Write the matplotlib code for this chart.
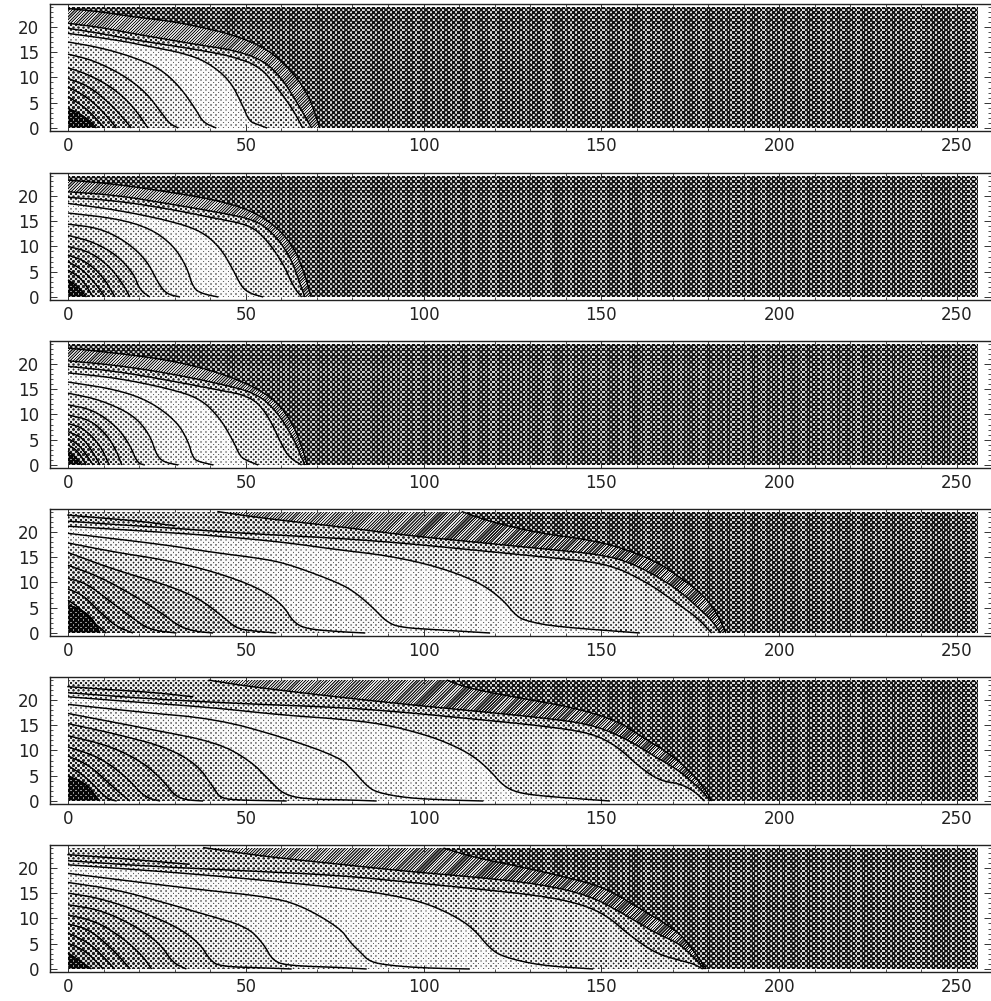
import numpy as np
import matplotlib
matplotlib.use("Agg")
import matplotlib.pyplot as plt
from matplotlib.path import Path
from matplotlib.ticker import MultipleLocator

X_TICKS = [0, 50, 100, 150, 200, 250]
Y_TICKS = [0, 5, 10, 15, 20]
BASE_GRAY = 0.34

PANEL1 = [
    [(0,23.6),(8.9,23),(18,22),(28,21.2),(37,20),(46.5,18.4),(56,15.7),(63.3,11),(68,6),(70.8,0)],
    [(0,20.7),(9,19.9),(18,18.7),(28,17.5),(37,16.4),(46.5,15.4),(55,13.4),(60.5,9.5),(65,4.3),(68.5,0)],
    [(0,19.7),(9,18.7),(18,17.5),(28,16.4),(37,15.4),(46.5,14.1),(54,12.1),(58.6,8.2),(63.3,3.6),(66,0)],
    [(0,18.7),(13.6,17.4),(23,16.1),(32.4,14.8),(39,13.1),(45.5,9.5),(49.2,4.3),(51,1.3),(53.5,0.65),(56,0)],
    [(0,17),(9,15.9),(18,14.1),(25.8,11.8),(31.4,8.2),(36,3.6),(38,1.1),(41.7,0)],
    [(0,14.6),(7,13.4),(15.5,10.5),(22,7),(26.7,2.6),(28.6,0.85),(31,0)],
    [(0,11.9),(6,10.5),(12.7,7.9),(18.3,4.3),(22.5,0)],
    [(0,9.8),(6,8.2),(11.7,4.9),(15.5,2),(17.8,0)],
    [(0,8.1),(5.2,6.2),(9.8,3.3),(13.6,0)],
    [(0,6.2),(5.2,3.9),(10.3,0)],
    [(0,3.9),(3,3),(6,1.5),(8,0)],
]
PANEL1_GRAY = [0.46,0.64,0.76,0.90,0.82,0.72,0.62,0.56,0.52,0.48,0.14]

PANEL2 = [
    [(0,23.1),(13.7,22.3),(32.4,20.3),(41.8,19.1),(51.2,17.2),(58.7,13.9),(63.4,9.9),(66.2,5.3),(68.4,0)],
    [(0,20.8),(13.7,20.1),(27.7,18.5),(41.8,16.8),(53,15.2),(58.7,11.9),(62.9,7.3),(65.2,2.7),(66.6,0)],
    [(0,19.7),(13.7,19),(27.7,17.5),(41.8,15.5),(51.2,14.2),(55.9,11.3),(60.5,6.6),(63.4,2),(65.7,0)],
    [(0,18.5),(13.7,17.2),(27.7,15.2),(37.1,13.2),(42.7,9.9),(46.5,5.3),(48.8,2),(51.2,0.7),(54.9,0)],
    [(0,16.6),(13.7,15.5),(23,13.6),(29.5,10.3),(33.4,6),(35.2,1.7),(38,0.6),(42.3,0)],
    [(0,14.4),(9,13.6),(16.5,10.9),(22.1,7.3),(25.4,2.7),(27.7,0.6),(31.5,0)],
    [(0,12.2),(7.1,10.9),(13.7,8.3),(18.4,4.7),(20.2,1.4),(23,0)],
    [(0,10),(6.2,8.9),(11.8,6),(15.6,2.4),(17.4,0)],
    [(0,8.3),(5.2,7),(9.9,4),(13.2,0)],
    [(0,7),(4.3,5.3),(8,2.4),(10.4,0)],
    [(0,5.3),(3.8,3.7),(7.1,0)],
    [(0,3.4),(2.9,2),(5.2,0)],
]
PANEL2_GRAY = [0.46,0.64,0.76,0.90,0.84,0.76,0.66,0.60,0.54,0.50,0.46,0.14]

PANEL3 = [
    [(0,23.1),(13.7,22.1),(27.7,20.8),(40,18.8),(51.2,15.9),(58.7,12.6),(63.4,8),(66.2,2.7),(67.3,0)],
    [(0,20.6),(13.7,19.7),(27.7,18.2),(41.8,16.2),(53,14.2),(58.7,10.6),(63.4,5.3),(66.6,0)],
    [(0,19.5),(13.7,18.5),(27.7,16.8),(41.8,14.9),(51.2,13.6),(55.9,10.3),(60.5,3.4),(62.4,1.4),(65.7,0)],
    [(0,18.2),(13.7,17.2),(27.7,15.2),(37.1,13.2),(42.7,9.3),(46.5,4.7),(48.4,1.7),(50.2,0.9),(53.5,0)],
    [(0,16.4),(13.7,14.9),(23,12.6),(30.6,8.6),(33.8,4.7),(35.2,1.25),(37.1,0.6),(40.9,0)],
    [(0,14.2),(9,12.9),(18.4,9.9),(23,6),(24.9,2),(26.8,0.6),(31,0)],
    [(0,11.9),(7.1,10.9),(13.7,7.6),(17.4,4),(19.5,0.4),(21.6,0)],
    [(0,9.9),(6.2,8.9),(10.9,6),(13.7,2.7),(15.1,0)],
    [(0,8.2),(4.3,7.3),(9,4),(11.6,0)],
    [(0,6.6),(4.3,5.3),(7.1,2.4),(9,0)],
    [(0,5.2),(3.2,4),(7.1,0)],
    [(0,4),(2.9,2.7),(5.1,0)],
    [(0,2.7),(1.9,1.7),(3.9,0)],
]
PANEL3_GRAY = [0.46,0.64,0.76,0.90,0.86,0.78,0.68,0.62,0.56,0.52,0.48,0.44,0.14]

PANEL4 = [
    [(110.7,24),(118.7,22),(132.7,19.7),(146.8,18.4),(156.2,16.7),(165.5,14.1),(171.2,11.4),(178,8),(182.5,4),(185,0)],
    [(42,24),(55.8,22.6),(76.5,21),(95.2,19.3),(114,18),(132.7,16.7),(151.5,15.4),(160.9,13.1),(171.2,8.8),(178,4.5),(181,2.5),(183.5,0)],
    [(0,22.1),(14,21.4),(28,20.8),(45,19.9),(60,19.3),(76.5,18.7),(95.2,17.7),(114,16.4),(132.7,15.1),(151.5,13.8),(162.7,10.1),(171.2,5.9),(177,3),(181,0)],
    [(0,21.1),(20,20.2),(40,19.3),(60,18),(76.5,16.4),(88.7,15.4),(100,13.8),(109.3,11.8),(116.8,9.5),(122.4,6.5),(126.2,3.2),(129.9,2.2),(137.4,1.25),(160.8,0)],
    [(0,19.7),(27.7,17.4),(40,16),(55.8,14.6),(63.3,13.3),(76.5,9.8),(81.2,7.8),(85.9,4.9),(89.6,2.2),(93.4,1.1),(104.6,0.6),(118.7,0)],
    [(0,17.8),(13,16),(27.7,14.4),(41.7,12),(54,8.8),(60.5,5.5),(63.3,2.2),(67,0.8),(76.5,0.25),(83.6,0)],
    [(0,15.9),(13.6,12.4),(27.7,9.5),(37,6.8),(43.6,3.2),(47.4,0.9),(52,0.4),(58.6,0)],
    [(0,13.4),(8.9,11.1),(18.3,7.5),(25.8,4.2),(31.4,1.25),(36,0.3),(40.8,0)],
    [(0,10.8),(5.2,9.8),(10.8,6.8),(18.3,2.9),(23,0.6),(30.5,0)],
    [(0,8.7),(4.2,7.5),(8.9,4.2),(13.6,1.25),(18.3,0)],
    [(0,6.5),(3.3,4.9),(7,2.2),(10.8,0)],
    [(0,5.6),(4,4.5),(7,2.8),(9,0)],
]
PANEL4_GRAY = [0.46,0.64,0.76,0.90,0.88,0.76,0.64,0.58,0.54,0.50,0.46,0.14]
PANEL4_TONGUE = [(0,23.3),(10,22.7),(20,22.1),(30,21.2)]

PANEL5 = [
    [(106.5,23.9),(112.1,22.4),(123.4,20.8),(142.1,18.5),(154.3,15.9),(160.9,12.9),(170.2,8.9),(176,5),(179,2.5),(181,0)],
    [(39.5,23.9),(51.2,22.6),(76.5,20.5),(95.2,19.1),(114,17.8),(132.7,16.5),(146.8,15.2),(156.2,12.6),(165.5,8.6),(171.2,6.3),(176,3.5),(179,1.5),(180.5,0)],
    [(0,21.4),(25,20.1),(50,19.2),(76.5,18.5),(95.2,17.5),(114,16.2),(132.7,14.9),(146.8,13.5),(154.3,10.9),(160.9,6.6),(166.5,4),(172.1,3.4),(176,2),(179,0)],
    [(0,20.6),(20,19.5),(40,18.5),(60,17),(76.5,16.2),(88.7,15.2),(100,13.2),(107.4,11.3),(114,8.9),(118.7,6),(122.4,3),(126.2,1.7),(132.7,1),(152.4,0)],
    [(0,19.1),(20,17.6),(41.8,16.2),(60.5,12.6),(76.5,8.6),(80.2,6),(84,3),(86.8,1.7),(95.2,0.6),(106.5,0.2),(116.8,0)],
    [(0,17.3),(23,14.2),(41.8,11.6),(51.2,8),(56.8,4),(60.5,1.4),(66.2,0.4),(79.3,0.2),(86.8,0)],
    [(0,15.3),(13.7,13.2),(27.7,10.6),(36.2,7.3),(40.9,2.7),(42.7,0.7),(46.5,0.2),(61.5,0)],
    [(0,12.9),(11.8,10.9),(21.2,7.6),(26.8,4),(30.1,1),(33.4,0.2),(38,0)],
    [(0,10.7),(9,8.6),(16.5,4.7),(21.6,0.7),(25.9,0)],
    [(0,8.9),(6.2,7),(12.7,2.7),(17.4,0)],
    [(0,7),(5.2,4.7),(10.9,0.4),(13.7,0)],
    [(0,5),(5.2,3.4),(8.1,0.7),(9,0)],
]
PANEL5_GRAY = [0.46,0.64,0.76,0.90,0.88,0.76,0.64,0.58,0.54,0.50,0.46,0.14]
PANEL5_TONGUE = [(0,22.6),(12,22),(25,21.4),(35,20.6)]

PANEL6 = [
    [(105.6,23.9),(114,22.1),(128,20.1),(142.1,17.8),(151.5,15.9),(160.9,11.9),(171.2,7.6),(175,4.5),(177.5,2),(179.5,0)],
    [(38,24),(55.8,22.2),(76.5,20.7),(95.2,19.3),(114,18.2),(132.7,16.8),(146.8,14.5),(156.2,10.9),(165.5,7),(171.2,5.3),(175,3),(178,0.8),(179,0)],
    [(0,21.4),(23,20.3),(50,19.4),(76.5,18.5),(95.2,17.2),(114,15.9),(132.7,14.5),(144,12.9),(151.5,10.6),(158,6.6),(165.5,3),(172.1,1.7),(176,1),(178.5,0)],
    [(0,20.6),(20,19.6),(40,18.5),(60,17.2),(76.5,16),(88.7,14.9),(100,13.2),(108.4,10.6),(114,8),(118.7,4),(122.4,2.4),(132.7,0.7),(147.7,0)],
    [(0,18.9),(18.3,17.3),(37,15.7),(55.8,14.3),(65.2,12.7),(76.5,8.1),(79.3,5.3),(82.1,3.4),(84.9,1.4),(90.6,0.7),(100,0.2),(113,0)],
    [(0,17.1),(13.6,15.7),(27.7,13),(38.9,10.7),(50.2,8.4),(54.9,5.1),(57.7,1.5),(62.4,0.66),(76.5,0.3),(84,0)],
    [(0,15),(8.9,14),(20.2,11.4),(30.5,8.4),(37,5.1),(39.9,1.8),(42.7,0.5),(55.8,0.2),(62.9,0)],
    [(0,12.7),(8.9,11.7),(18.3,8.75),(25.8,5.1),(29.5,1.2),(33.3,0)],
    [(0,10.7),(8,9.4),(15.5,6.1),(21.1,2.5),(23.5,0)],
    [(0,8.9),(6.1,7.8),(12.7,3.8),(17.5,0)],
    [(0,7.1),(6.1,5.1),(10.8,1.8),(13.1,0)],
    [(0,5.1),(5.2,3.5),(9.9,0)],
    [(0,3.2),(4.2,1.2),(6.6,0)],
]
PANEL6_GRAY = [0.46,0.64,0.76,0.90,0.88,0.78,0.68,0.62,0.56,0.52,0.48,0.44,0.14]
PANEL6_TONGUE = [(0,22.6),(12,22),(24,21.3),(34,20.7)]

PANELS = [
    (PANEL1, PANEL1_GRAY, None),
    (PANEL2, PANEL2_GRAY, None),
    (PANEL3, PANEL3_GRAY, None),
    (PANEL4, PANEL4_GRAY, PANEL4_TONGUE),
    (PANEL5, PANEL5_GRAY, PANEL5_TONGUE),
    (PANEL6, PANEL6_GRAY, PANEL6_TONGUE),
]
ZERO_ROWS = [128, 297, 465, 633, 801, 969]

W, H = 991, 1001
PX_X = 3.556
PX_Y = 5.06
LEFT_PX, ZERO_PX, RIGHT_PX = 50, 68, 991
BELOW_PX, ABOVE_PX = 3, 124
XMIN, XMAX = (LEFT_PX - ZERO_PX) / PX_X, (RIGHT_PX - ZERO_PX) / PX_X
YMIN, YMAX = -BELOW_PX / PX_Y, ABOVE_PX / PX_Y
NX, NY = 910, 121


def screen(gray, nx, ny, diagonal):
    """Halftone tile for one shade, as a grey array."""
    yy, xx = np.mgrid[0:ny, 0:nx]
    if diagonal:
        u = (np.cos(2 * np.pi * (xx - yy) / 3.0) + 1) / 2
    else:
        u = (np.cos(2 * np.pi * xx / 5.0) * np.cos(2 * np.pi * yy / 5.0) + 1) / 2
    levels = np.sort(u.ravel())
    rank = (np.searchsorted(levels, u, side="left") + np.searchsorted(levels, u, side="right")) / (2 * u.size)
    binary = np.clip((gray - rank) * 3.0 + 0.5, 0, 1)
    return 0.8 * binary + 0.2 * gray


def smooth(points):
    p = np.array(points, dtype=float)
    for _ in range(2):
        q = 0.75 * p[:-1] + 0.25 * p[1:]
        r = 0.25 * p[:-1] + 0.75 * p[1:]
        mid = np.empty((2 * len(q), 2))
        mid[0::2] = q
        mid[1::2] = r
        p = np.vstack([p[0], mid, p[-1]])
    return p


fig = plt.figure(figsize=(W / 100, H / 100), dpi=100, facecolor="white")

for (contours, grays, tongue), row0 in zip(PANELS, ZERO_ROWS):
    bottom = row0 + BELOW_PX
    height = BELOW_PX + ABOVE_PX
    width = RIGHT_PX - LEFT_PX
    ax = fig.add_axes([LEFT_PX / W, 1 - bottom / H, width / W, height / H])
    ax.set_xlim(XMIN, XMAX)
    ax.set_ylim(YMIN, YMAX)
    ax.patch.set_visible(False)

    # pixel centres of the plotted area, in data units
    gy, gx = np.mgrid[0:NY, 0:NX]
    px = np.column_stack([ZERO_PX + gx.ravel() + 0.5, H - row0 + gy.ravel() + 0.5])
    data = ax.transData.inverted().transform(px)

    field = screen(BASE_GRAY, NX, NY, False)
    for i, (line, g) in enumerate(zip(contours, grays)):
        curve = smooth(line)
        poly = np.vstack([[0, 0], [0, curve[0, 1]], curve, [0, 0]])
        inside = Path(poly).contains_points(data).reshape(NY, NX)
        tile = screen(g, NX, NY, i == 0)
        field[inside] = tile[inside]
    fig.figimage(field, xo=ZERO_PX, yo=H - row0, cmap="gray", vmin=0, vmax=1, origin="lower", zorder=-1)

    for line in contours:
        curve = smooth(line)
        ax.plot(curve[:, 0], curve[:, 1], color="black", lw=1.05, solid_capstyle="butt")
    if tongue is not None:
        curve = smooth(tongue)
        ax.plot(curve[:, 0], curve[:, 1], color="black", lw=1.05)

    ax.set_xlim(XMIN, XMAX)
    ax.set_ylim(YMIN, YMAX)
    ax.set_xticks(X_TICKS)
    ax.set_yticks(Y_TICKS)
    ax.xaxis.set_minor_locator(MultipleLocator(10))
    ax.yaxis.set_minor_locator(MultipleLocator(1))
    ax.tick_params(axis="x", which="major", direction="in", top=True, bottom=True, length=5, width=0.7,
                   color="#333333", labelsize=12, labelcolor="#222222", pad=4)
    ax.tick_params(axis="x", which="minor", direction="in", top=True, bottom=True, length=2.5, width=0.6,
                   color="#333333")
    ax.tick_params(axis="y", which="major", direction="in", left=True, right=True, length=5, width=0.7,
                   color="#333333", labelsize=12, labelcolor="#222222", pad=8)
    ax.tick_params(axis="y", which="minor", direction="in", left=True, right=True, length=2.5, width=0.6,
                   color="#333333")
    for name in ("top", "bottom", "left"):
        ax.spines[name].set_linewidth(1.0)
        ax.spines[name].set_color("#222222")
    ax.spines["right"].set_visible(False)
    for t in ax.get_xticklabels() + ax.get_yticklabels():
        t.set_fontfamily("DejaVu Sans")

fig.savefig("out.png", dpi=100, facecolor="white")
